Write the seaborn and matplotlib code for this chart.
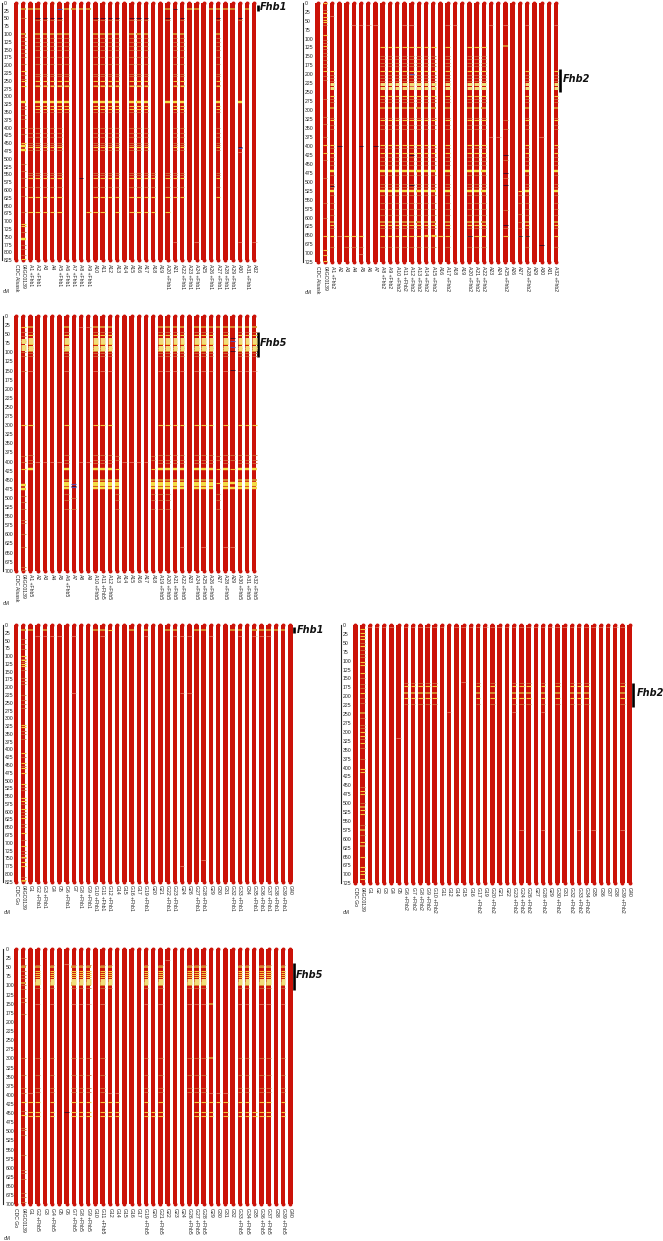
#!/usr/bin/env python
# -*- coding: utf-8 -*-
import matplotlib
matplotlib.use('Agg')
import matplotlib.pyplot as plt
from matplotlib.ticker import MultipleLocator
import pandas as pd
import seaborn as sns

W, H = 663, 1241
PITCH = 7.22
RED = '#cb1208'

# band styles: colour, thickness in px
KINDS = {
    'Y': ('#f3dc45', 2.4), 'y': ('#f3c63c', 1.1), 'o': ('#d99a32', 1.7),
    't': ('#d0743e', 0.8), 'p': ('#ec9a80', 0.6), 'd': ('#3c0c28', 0.9),
    'b': ('#5a4aa8', 1.1), 'l': ('#f0dc78', 3.0),
}

# ---- lines (tick labels) ----
a_fhb1 = [1, 2, 5, 6, 7, 8, 9, 20, 22, 23, 24, 26, 27, 28, 29, 31]
a_fhb2 = [1, 8, 9, 10, 11, 12, 13, 14, 15, 17, 20, 21, 22, 25, 28, 32]
a_fhb5 = [1, 6, 10, 11, 12, 19, 20, 21, 22, 24, 25, 26, 28, 30, 31, 32]
g_ids = [1, 2, 3, 4, 5, 6, 7, 8, 9, 10, 11, 12, 14, 15, 16, 17, 19, 20, 21, 22, 23, 24,
         26, 27, 28, 29, 30, 31, 32, 33, 34, 35, 36, 37, 38, 39, 40]
g_fhb1 = [2, 3, 6, 8, 9, 10, 11, 12, 16, 19, 22, 23, 27, 28, 32, 33, 35, 36, 37, 38, 39]
g_fhb2 = [6, 7, 8, 9, 10, 17, 20, 23, 24, 26, 28, 30, 32, 33, 34, 39]
g_fhb5 = [2, 4, 7, 8, 9, 11, 19, 21, 26, 27, 28, 33, 34, 36, 37, 39]

# ---- panel 1: A lines, Fhb1 ----
p1_donor = {'o': [20, 100, 318], 'Y': [318, 460, 472, 758], 'y': [218, 252, 268, 448, 710, 716, 820],
            't': [50, 110, 122, 135, 148, 160, 175, 195, 230, 245, 330, 342, 360, 372, 400, 420, 515, 540,
                  560, 590, 620, 670, 735, 775, 790, 808]}
p1_blocks = [
    ([1, 2, 6, 7, 8, 9, 20, 23, 24, 26, 27, 28, 29, 31], {'o': [20]}),
    ([2, 3, 4, 5, 10, 11, 12, 13, 15, 16, 17, 20, 22, 27, 30], {'d': [50], 't': [55]}),
    ([2, 3, 4, 5, 6, 10, 11, 12, 13, 15, 16, 17, 21, 22, 27],
     {'o': [100], 't': [112, 125, 140, 150, 175, 195, 228, 236, 262, 350], 'y': [250, 268, 332, 342]}),
    ([2, 3, 4, 5, 6, 10, 11, 12, 13, 15, 16, 17, 20, 21, 22, 27, 30], {'Y': [318]}),
    ([1, 2, 3, 4, 5, 10, 11, 12, 13, 15, 16, 17, 21, 22, 27],
     {'t': [400, 418, 430, 448, 456, 472], 'y': [462]}),
    ([1, 2, 3, 4, 5, 10, 11, 12, 13, 15, 16, 17, 18, 20, 21, 22, 27],
     {'t': [545, 552, 590], 'y': [562, 622]}),
    ([1, 2, 3, 4, 5, 9, 10, 11, 13, 15, 16, 17, 18, 20], {'y': [670]}),
    ([21, 24, 30, 32], {'p': [766]}),
]
p1_extra = [(5, 'b', 20), (21, 'd', 20), (8, 'd', 560), (30, 'd', 462), (30, 'b', 466), (30, 'p', 478)]

# ---- panel 2: A lines, Fhb2 ----
p2_donor = {'y': [2, 30, 40, 48, 55, 90, 120, 190, 398, 420, 652, 690, 705, 720],
            't': [20, 62, 105, 112, 130, 140, 150, 160, 170, 180, 205, 215, 268, 320, 340, 375, 440, 490, 560, 600]}
core2 = {'y': [125, 190, 260, 328, 398, 420, 620, 652], 'Y': [470, 526], 'l': [228, 238],
         'o': [295, 612], 't': [150, 158, 168, 178, 202, 210, 218, 270, 278, 322, 342, 354, 405, 430, 442, 452, 482,
                               505, 515, 538, 560, 575, 592, 630, 682]}
p2_blocks = [
    ([8, 9, 10, 11, 12, 13, 14, 15, 17, 20, 21, 22], core2),
    ([1, 28, 32], {k: [c for c in v if c >= 185] for k, v in core2.items()}),
    ([25], {'o': [122], 't': [328, 352, 440, 490, 580, 630], 'y': [652], 'd': [425, 475, 508, 620]}),
    ([2], {'d': [400], 'p': [652]}),
    ([3, 4], {'y': [652], 't': [682]}),
    ([5], {'y': [652], 't': [682], 'p': [62, 702], 'd': [400]}),
    ([6, 7], {'p': [62]}),
    ([7], {'d': [400]}),
    ([4, 11, 12, 17, 18, 23, 25, 28, 32], {'p': [62]}),
    ([23, 24, 30], {'p': [375]}),
    ([16], {'y': [652]}),
    ([14, 15], {'y': [650]}),
    ([27], {'y': [526, 652], 't': [538, 560, 590, 612, 630]}),
    ([1], {'p': [38], 'd': [512]}),
    ([30], {'d': [678]}),
]
p2_extra = [(12, 'd', 425), (12, 'd', 508), (12, 'b', 200), (12, 'p', 232), (20, 'd', 652), (27, 'd', 652), (28, 'd', 652)]

# ---- panel 3: A lines, Fhb5 ----
p3_donor = {'y': [30, 300, 420], 'Y': [465, 475], 'l': [65, 72, 82, 90],
            't': [45, 55, 100, 110, 150, 385, 400, 495, 510, 530, 560, 570, 600, 635, 690, 698]}
p3_blocks = [
    (a_fhb5, {'o': [30, 95], 't': [45, 102, 110], 'y': [52, 78], 'l': [64, 71, 85, 91]}),
    (a_fhb5, {'p': [150], 'y': [300], 't': [383, 395, 405], 'Y': [420]}),
    ([6, 10, 11, 12, 13, 18, 19, 20, 21, 22, 24, 25, 26, 28, 30, 31, 32], {'Y': [458, 465, 472], 'o': [450]}),
    ([6, 13, 18, 19, 20, 27], {'t': [490, 505, 530]}),
    ([13, 18, 27], {'y': [420], 't': [385, 395]}),
    ([27], {'o': [30], 'y': [460]}),
    ([29], {'o': [30], 'b': [70, 85], 'd': [60, 95, 148], 't': [383, 395], 'y': [420], 'Y': [460, 472]}),
    ([8, 9], {'p': [30]}),
    ([2, 3, 4, 5, 8, 9, 14, 15, 16, 17], {'p': [400]}),
    ([22, 25, 28, 29], {'p': [635]}),
    ([7], {'b': [462, 470], 'd': [466], 't': [500, 530]}),
]
p3_extra = []

# ---- panel 4: G lines, Fhb1 ----
p4_donor = {'y': [100, 112, 125, 133, 320, 328, 410, 445, 460, 475, 510, 555, 565, 590, 620, 668, 710, 745, 762, 775, 820],
            'o': [15, 825], 't': [45, 60, 78, 108, 118, 145, 170, 180, 190, 225, 240, 255, 268, 340, 350, 365,
                                  425, 452, 520, 530, 575, 600, 610, 640, 650, 690, 725, 735, 750, 810]}
p4_blocks = [
    ([1, 3, 10, 11, 16, 19, 22, 23, 27, 28, 32, 33, 35, 36, 37, 38, 39], {'o': [15]}),
    ([12], {'y': [15]}),
    ([2, 3, 4, 5, 7, 11, 19, 23, 24, 26, 29, 33, 35, 36, 37], {'p': [35]}),
    ([7, 24, 26], {'p': [220]}),
    ([24], {'p': [775]}),
    ([28], {'p': [755]}),
]
p4_extra = []

# ---- panel 5: G lines, Fhb2 ----
p5_donor = {'y': [10, 22, 30, 40, 60, 105, 112, 135, 190, 300, 312, 330, 405, 412, 465, 475, 520, 530, 610, 650, 680, 690, 700, 712, 724],
            'o': [248, 510, 575, 620],
            't': [50, 70, 80, 90, 150, 165, 178, 205, 218, 260, 280, 290, 320, 345, 375, 455, 500, 560, 590]}
p5_blocks = [
    (g_fhb2, {'t': [163, 222], 'y': [172, 205], 'o': [190]}),
    ([1, 2, 3, 4, 6, 7, 8, 9, 10, 11, 14, 15, 16, 17, 19, 20, 21, 22, 23, 24, 26, 27, 28, 29, 30, 31, 32, 33, 34, 35,
      36, 37, 38, 39], {'p': [5]}),
    ([15], {'p': [160]}),
    ([12, 23, 28], {'p': [245]}),
    ([5], {'p': [318]}),
    ([24, 28, 33, 35, 39], {'p': [575]}),
]
p5_extra = []

# ---- panel 6: G lines, Fhb5 ----
p6_donor = {'y': [420, 455], 'o': [50, 92],
            't': [25, 45, 60, 70, 80, 100, 110, 135, 145, 178, 300, 345, 380, 395, 445, 490, 497, 510, 565, 605, 615, 630, 670, 680, 695]}
p6_blocks = [
    ([2, 4, 7, 8, 9, 11, 12, 19, 21, 26, 27, 28, 33, 34, 36, 37, 39],
     {'o': [50, 92, 98], 'y': [60, 66, 72, 78], 'l': [86, 92], 't': [45, 108]}),
    (g_fhb5, {'p': [150], 't': [300, 345, 380, 393]}),
    ([2, 4, 7, 8, 9, 11, 12, 14, 19, 21, 27, 28, 29, 30, 31, 33, 34, 36, 37, 39, 1], {'y': [420]}),
    ([1, 2, 4, 7, 8, 9, 11, 12, 14, 19, 20, 21, 27, 28, 29, 31, 33, 34, 35, 36, 37, 39],
     {'y': [447, 458]}),
    ([1, 12, 14, 29, 30, 31], {'p': [395]}),
    ([22], {'p': [30]}),
    ([6], {'p': [40], 'd': [448]}),
    ([29], {'o': [150, 300]}),
]
p6_extra = []

QTL_P1, QTL_P2, QTL_P3 = (8, 28), (185, 249), (44, 112)
QTL_P4, QTL_P5, QTL_P6 = (5, 25), (162, 231), (39, 112)


def make_labels(prefix, ids, carriers, qtl):
    return [f'{prefix}{i} +{qtl}' if i in carriers else f'{prefix}{i}' for i in ids]


a_ids = list(range(1, 33))
PANELS = [
    dict(first=['CDC Alsask', '04GC0139'], prefix='A', ids=a_ids, carriers=a_fhb1, qtl='Fhb1', length=825,
         donor=p1_donor, blocks=p1_blocks, extra=p1_extra, span=QTL_P1,
         ruler=1.7, col0=16, y0=2.7, y1=260.3, cm=(6.5, 291.7), qtl_x=260, qtl_y=7),
    dict(first=['CDC Alsask', '04GC0139'], prefix='A', ids=a_ids, carriers=a_fhb2, qtl='Fhb2', length=725,
         donor=p2_donor, blocks=p2_blocks, extra=p2_extra, span=QTL_P2,
         ruler=302.7, col0=317.7, y0=2.7, y1=262.3, cm=(308, 292), qtl_x=563, qtl_y=79),
    dict(first=['CDC Alsask', '04GC0139'], prefix='A', ids=a_ids, carriers=a_fhb5, qtl='Fhb5', length=700,
         donor=p3_donor, blocks=p3_blocks, extra=p3_extra, span=QTL_P3,
         ruler=2.7, col0=16, y0=316, y1=570.7, cm=(6, 604), qtl_x=260, qtl_y=343),
    dict(first=['CDC Go', '04GC0139'], prefix='G', ids=g_ids, carriers=g_fhb1, qtl='Fhb1', length=825,
         donor=p4_donor, blocks=p4_blocks, extra=p4_extra, span=QTL_P4,
         ruler=2.7, col0=16, y0=625, y1=881.7, cm=(6.7, 913), qtl_x=297, qtl_y=630),
    dict(first=['CDC Go', '04GC0139'], prefix='G', ids=g_ids, carriers=g_fhb2, qtl='Fhb2', length=725,
         donor=p5_donor, blocks=p5_blocks, extra=p5_extra, span=QTL_P5,
         ruler=340.7, col0=355.3, y0=625, y1=883.3, cm=(346, 913), qtl_x=637, qtl_y=693),
    dict(first=['CDC Go', '04GC0139'], prefix='G', ids=g_ids, carriers=g_fhb5, qtl='Fhb5', length=700,
         donor=p6_donor, blocks=p6_blocks, extra=p6_extra, span=QTL_P6,
         ruler=3.3, col0=16, y0=949, y1=1204.3, cm=(7, 1238), qtl_x=296, qtl_y=975),
]


def draw_bands(ax, pos, kinds, half=0.32):
    for kind, cms in kinds.items():
        color, px = KINDS[kind]
        ax.hlines(cms, pos - half, pos + half, colors=color, linewidth=px * 0.72, capstyle='butt', zorder=3)


def draw_panel(fig, p):
    labels = p['first'] + make_labels(p['prefix'], p['ids'], p['carriers'], p['qtl'])
    n = len(labels)
    right = p['col0'] + (n - 0.5) * PITCH
    ax = fig.add_axes([p['ruler'] / W, 1 - p['y1'] / H, (right - p['ruler']) / W, (p['y1'] - p['y0']) / H])
    ax.patch.set_alpha(0)

    df = pd.DataFrame({'line': labels, 'length': [p['length']] * n})
    sns.barplot(data=df, x='line', y='length', color=RED, saturation=1, width=0.62, linewidth=0, ax=ax, zorder=2)
    ax.scatter(range(n), [0] * n, s=8, color=RED, clip_on=False, linewidths=0, zorder=2)
    ax.scatter(range(n), [p['length']] * n, s=8, color=RED, clip_on=False, linewidths=0, zorder=2)

    draw_bands(ax, 1, p['donor'])
    ids = p['ids']
    for carriers, kinds in p['blocks']:
        for i in carriers:
            draw_bands(ax, ids.index(i) + 2, kinds)
    for i, kind, cm in p['extra']:
        draw_bands(ax, ids.index(i) + 2, {kind: [cm]})

    ax.set_xlim((p['ruler'] - p['col0']) / PITCH, n - 0.5)
    ax.set_ylim(p['length'], 0)
    ax.set_xlabel('')
    ax.set_ylabel('')
    for s in ['top', 'right', 'bottom']:
        ax.spines[s].set_visible(False)
    ax.spines['left'].set_linewidth(0.8)
    ax.yaxis.set_major_locator(MultipleLocator(25))
    ax.yaxis.set_minor_locator(MultipleLocator(5))
    ax.tick_params(axis='y', which='major', direction='in', length=2, width=0.4, labelsize=3.7, pad=-1.6, colors='#222222')
    ax.tick_params(axis='y', which='minor', direction='in', length=1.2, width=0.3)
    for t in ax.get_yticklabels():
        t.set_ha('left')
    ax.tick_params(axis='x', length=0, labelsize=3.7, pad=2.6, colors='#222222')
    ax.set_xticks(range(n))
    ax.set_xticklabels(labels, rotation=270, ha='center', va='top')

    # QTL bar and name
    ax.plot([n - 0.5 + 0.02] * 2, p['span'], color='black', lw=1.9, clip_on=False, solid_capstyle='butt')
    fig.text(p['qtl_x'] / W, 1 - p['qtl_y'] / H, p['qtl'], fontsize=7, fontweight='bold', fontstyle='italic',
             family='DejaVu Sans', ha='left', va='center', color='#111111')
    fig.text(p['cm'][0] / W, 1 - p['cm'][1] / H, 'cM', fontsize=3.7, ha='center', va='center', color='#222222')


sns.set_theme(style='white')
plt.rcParams['font.family'] = ['Liberation Sans', 'DejaVu Sans']
fig = plt.figure(figsize=(W / 100, H / 100), dpi=100)
for panel in PANELS:
    draw_panel(fig, panel)
fig.savefig('out.png', dpi=100)
plt.close(fig)
